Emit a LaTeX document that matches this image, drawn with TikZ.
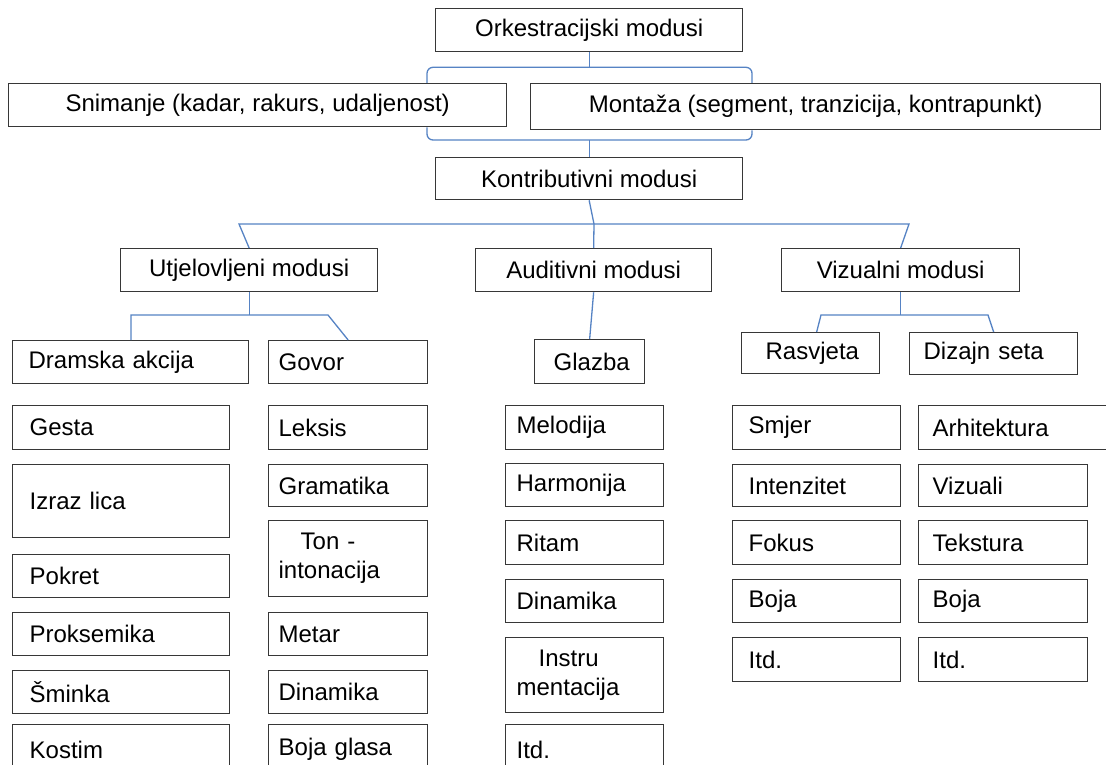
\documentclass[tikz,border=0pt]{standalone}
\usepackage{fontspec}
\setmainfont{Liberation Sans}
\usepackage{tikz}
\usetikzlibrary{calc}
\definecolor{linkblue}{RGB}{86,131,196}
\definecolor{boxgray}{RGB}{55,55,55}
\tikzset{
    modebox/.style={draw=boxgray, line width=1.3pt, anchor=north west, inner sep=0pt, align=center},
    cellbox/.style={draw=boxgray, line width=1.3pt, anchor=north west, inner ysep=0pt, align=left},
    link/.style={draw=linkblue, line width=1.3pt}
}
\newcommand\drawMode[6]{
    \node[modebox, minimum width=#4, minimum height=#5] (#1) at (#2,#3) {#6};
}
\newcommand\drawCell[7]{
    \pgfmathsetmacro\cellwidth{#4-2*#6}
    \node[cellbox, minimum height=#5, inner xsep=#6, text width=\cellwidth pt] (#1) at (#2,#3) {#7};
}
\begin{document}
\begin{tikzpicture}[x=1pt, y=-1pt, font=\fontsize{24}{29}\selectfont]
        \path[fill=white, use as bounding box] (0,0) rectangle (1106,765);

        % orchestration and contribution
        \drawMode{orke}{435}{8}{307}{43}{Orkestracijski modusi}
        \drawMode{snim}{8}{83}{498}{43}{Snimanje (kadar, rakurs, udaljenost)}
        \drawMode{mont}{530}{83}{570}{46}{Montaža (segment, tranzicija, kontrapunkt)}
        \drawMode{kont}{435}{157}{307}{42}{Kontributivni modusi}
        \drawMode{utj}{120}{248}{257}{43}{Utjelovljeni modusi}
        \drawMode{aud}{475}{248}{236}{43}{Auditivni modusi}
        \drawMode{viz}{781}{248}{238}{43}{Vizualni modusi}

        \drawCell{dram}{12}{340}{236}{43}{16}{Dramska akcija}
        \drawCell{gov}{268}{340}{159}{43}{10}{Govor}
        \drawCell{glaz}{534}{339}{110}{44}{19}{Glazba}
        \drawCell{ras}{741}{332}{138}{41}{24}{Rasvjeta}
        \drawCell{diz}{909}{332}{168}{42}{14}{Dizajn seta}

        % braces
        \coordinate (bl) at (427,0);
        \coordinate (br) at (752,0);
        \draw[link, rounded corners=6pt] (bl |- snim.north) |- ($(orke.south)+(0,15)$) -| (br |- mont.north);
        \draw[link] (orke.south) -- ++(0,15);
        \draw[link, rounded corners=6pt] (bl |- snim.south) |- ($(kont.north)+(0,-17)$) -| (br |- mont.south);
        \draw[link] (kont.north) -- ++(0,-17);

        % tree
        \coordinate (hub) at (594,224);
        \coordinate (hubl) at (239,224);
        \coordinate (hubr) at (909,224);
        \draw[link] (kont.south) -- (hub) -- (aud.north);
        \draw[link] (utj.north) -- (hubl) -- (hubr) -- (viz.north);

        \coordinate (utjl) at (131,315);
        \coordinate (utjr) at (328,315);
        \draw[link] (utj.south) -- (utj.south |- utjl);
        \draw[link] (dram.north -| utjl) -- (utjl) -- (utjr) -- (gov.north);

        \draw[link] (aud.south) -- (glaz.north);

        \coordinate (vizl) at (821,315);
        \coordinate (vizr) at (988,315);
        \draw[link] (viz.south) -- (viz.south |- vizl);
        \draw[link] ([xshift=6pt]ras.north) -- (vizl) -- (vizr) -- (diz.north);

        % columns
        \foreach \cname/\ytop/\yh/\words in {gesta/405/44/Gesta, izraz/464/73/Izraz lica, pokret/554/43/Pokret, proksemika/612/43/Proksemika, sminka/670/43/Šminka, kostim/724/50/Kostim}
        {
            \drawCell{\cname}{12}{\ytop}{217}{\yh}{17}{\words}
        }
        \foreach \cname/\ytop/\yh/\words in {leksis/405/44/Leksis, gramatika/464/42/Gramatika, ton/520/76/{\hspace*{22pt}Ton -\\intonacija}, metar/612/43/Metar, dinamikaG/670/43/Dinamika, bojaglasa/724/50/Boja glasa}
        {
            \drawCell{\cname}{268}{\ytop}{159}{\yh}{10}{\words}
        }
        \foreach \cname/\ytop/\yh/\words in {melodija/405/44/Melodija, harmonija/463/43/Harmonija, ritam/520/44/Ritam, dinamikaA/579/43/Dinamika, instru/637/75/{\hspace*{22pt}Instru\\mentacija}, itdA/724/50/Itd.}
        {
            \drawCell{\cname}{505}{\ytop}{158}{\yh}{11}{\words}
        }
        \foreach \cname/\ytop/\yh/\words in {smjer/405/44/Smjer, intenzitet/464/42/Intenzitet, fokus/520/44/Fokus, bojaR/579/43/Boja, itdR/637/44/Itd.}
        {
            \drawCell{\cname}{732}{\ytop}{168}{\yh}{16}{\words}
        }
        \drawCell{arhitektura}{918}{405}{200}{44}{14}{Arhitektura}
        \foreach \cname/\ytop/\yh/\words in {vizuali/464/42/Vizuali, tekstura/520/44/Tekstura, bojaD/579/43/Boja, itdD/637/44/Itd.}
        {
            \drawCell{\cname}{918}{\ytop}{169}{\yh}{14}{\words}
        }
    \end{tikzpicture}
\end{document}
